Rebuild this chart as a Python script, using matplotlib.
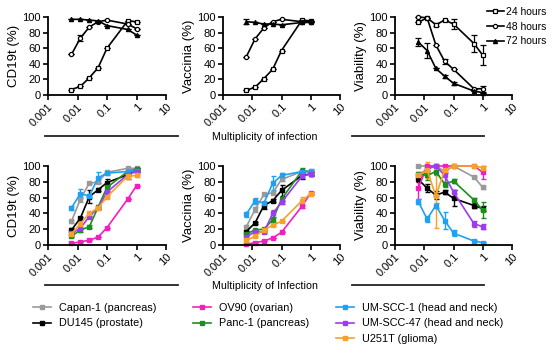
import matplotlib
matplotlib.use('Agg')
import matplotlib.pyplot as plt
from matplotlib.lines import Line2D

plt.rcParams['font.family'] = ['Liberation Sans', 'DejaVu Sans']
plt.rcParams['font.size'] = 7.5

# multiplicity of infection
moi = [0.00625, 0.0125, 0.025, 0.05, 0.1, 0.5, 1]

# top row: time course
time_labels = ['24 hours', '48 hours', '72 hours']
time_markers = ['s', 'o', '^']

cd19_time = [
    [7, 11, 22, 35, 60, 95, 94],
    [52, 73, 87, 94, 96, 91, 85],
    [97, 97, 96, 95, 89, 84, 77],
]
cd19_time_err = [
    [0, 0, 0, 0, 0, 0, 0],
    [0, 4, 0, 0, 0, 0, 0],
    [0, 0, 0, 0, 0, 0, 0],
]
vac_time = [
    [6, 10, 21, 33, 57, 96, 95],
    [49, 72, 86, 94, 97, 94, 94],
    [94, 93, 91, 91, 90, 93, 93],
]
vac_time_err = [
    [0, 0, 0, 0, 0, 0, 0],
    [0, 0, 0, 0, 0, 0, 0],
    [3, 0, 0, 0, 0, 0, 0],
]
via_time = [
    [93, 99, 90, 96, 91, 66, 51],
    [100, 99, 64, 43, 33, 8, 8],
    [68, 57, 34, 24, 15, 5, 3],
]
via_time_err = [
    [0, 0, 2, 0, 7, 11, 13],
    [0, 0, 0, 3, 0, 0, 4],
    [5, 10, 0, 2, 2, 0, 0],
]

# bottom row: cell lines
cell_lines = ['Capan-1 (pancreas)', 'DU145 (prostate)', 'OV90 (ovarian)',
              'Panc-1 (pancreas)', 'UM-SCC-1 (head and neck)',
              'UM-SCC-47 (head and neck)', 'U251T (glioma)']
cell_colors = ['#9a9a9a', '#000000', '#f21fc0', '#1a8f1a', '#1fa0f5',
               '#9b3cf0', '#f7a128']

cd19_cells = [
    [30, 58, 78, 80, 92, 97, 97],
    [19, 34, 61, 70, 79, 89, 95],
    [2, 4, 6, 10, 22, 58, 75],
    [11, 19, 23, 48, 73, 93, 96],
    [47, 65, 62, 85, 91, 93, 94],
    [15, 21, 36, 47, 67, 89, 93],
    [14, 27, 40, 47, 61, 87, 88],
]
cd19_cells_err = [
    [2, 3, 1, 2, 2, 1, 1],
    [2, 2, 8, 2, 4, 5, 2],
    [0, 0, 0, 0, 0, 0, 0],
    [1, 2, 2, 3, 2, 2, 1],
    [3, 6, 2, 7, 2, 1, 1],
    [1, 1, 1, 1, 1, 1, 1],
    [1, 1, 1, 1, 2, 3, 2],
]
vac_cells = [
    [23, 45, 64, 66, 83, 93, 94],
    [17, 28, 50, 56, 69, 88, 90],
    [1, 3, 5, 9, 16, 49, 66],
    [14, 19, 20, 32, 58, 94, 92],
    [39, 56, 53, 78, 88, 93, 93],
    [10, 17, 16, 40, 54, 87, 90],
    [6, 11, 19, 25, 30, 56, 65],
]
vac_cells_err = [
    [2, 3, 2, 2, 2, 2, 2],
    [1, 1, 4, 2, 7, 5, 3],
    [0, 0, 0, 0, 0, 2, 1],
    [1, 1, 1, 3, 2, 3, 3],
    [3, 4, 2, 9, 3, 1, 1],
    [1, 1, 1, 4, 2, 2, 2],
    [1, 1, 1, 1, 1, 5, 2],
]
via_cells = [
    [100, 100, 100, 93, 100, 86, 73],
    [83, 72, 63, 67, 59, 50, 46],
    [72, 100, 100, 100, 100, 100, 92],
    [90, 88, 93, 77, 81, 57, 44],
    [55, 33, 50, 31, 15, 5, 3],
    [88, 96, 100, 88, 67, 27, 23],
    [88, 95, 62, 95, 100, 100, 98],
]
via_cells_err = [
    [0, 0, 0, 2, 0, 1, 2],
    [3, 5, 5, 3, 10, 3, 3],
    [14, 0, 0, 0, 0, 0, 8],
    [3, 6, 4, 3, 3, 3, 10],
    [3, 4, 3, 11, 4, 1, 1],
    [2, 2, 0, 12, 2, 4, 3],
    [2, 10, 40, 3, 0, 0, 2],
]

W, H = 554, 353
fig = plt.figure(figsize=(W / 100, H / 100), dpi=100)


def px_axes(x0, y_top, w, h):
    return fig.add_axes([x0 / W, 1 - (y_top + h) / H, w / W, h / H])


def style_axes(ax, ylabel):
    ax.set_xscale('log')
    ax.set_xlim(0.001, 10)
    ax.set_ylim(0, 100)
    ax.set_yticks([0, 20, 40, 60, 80, 100])
    ax.set_xticks([0.001, 0.01, 0.1, 1, 10])
    ax.set_xticklabels(['0.001', '0.01', '0.1', '1', '10'], rotation=45,
                       ha='right', rotation_mode='anchor')
    ax.set_ylabel(ylabel, fontsize=9.5, labelpad=1.5)
    for s in ['top', 'right']:
        ax.spines[s].set_visible(False)
    for s in ['left', 'bottom']:
        ax.spines[s].set_linewidth(1.3)
    ax.tick_params(which='major', length=3.5, width=1.2, pad=1.5,
                   labelsize=8)
    ax.tick_params(which='minor', length=2, width=0.8)
    ax.patch.set_visible(False)


col_x = [48, 223, 395]
col_w = [118, 117, 117]

# top row
top_sets = [(cd19_time, cd19_time_err, 'CD19t (%)'),
            (vac_time, vac_time_err, 'Vaccinia (%)'),
            (via_time, via_time_err, 'Viability (%)')]
time_handles = []
for j in range(3):
    face = 'black' if time_markers[j] == '^' else 'white'
    time_handles.append(Line2D([], [], color='black', lw=1.2,
                               marker=time_markers[j], ms=3, mfc=face,
                               mec='black', mew=0.9))

for i, (vals, errs, lab) in enumerate(top_sets):
    ax = px_axes(col_x[i], 17, col_w[i], 78)
    for j in range(3):
        face = 'black' if time_markers[j] == '^' else 'white'
        ax.errorbar(moi, vals[j], yerr=errs[j], color='black', lw=1.2,
                    marker=time_markers[j], ms=3, mfc=face, mec='black',
                    mew=0.9, capsize=2, elinewidth=0.9, clip_on=False)
    style_axes(ax, lab)
    if i == 2:
        ax.legend(time_handles, time_labels, loc='upper left',
                  bbox_to_anchor=(487 / W, 1 - 7 / H),
                  bbox_transform=fig.transFigure, frameon=False,
                  handlelength=1.6, handletextpad=0.2, labelspacing=0.45,
                  borderaxespad=0, borderpad=0, fontsize=7.5)

# bottom row
bot_sets = [(cd19_cells, cd19_cells_err, 'CD19t (%)'),
            (vac_cells, vac_cells_err, 'Vaccinia (%)'),
            (via_cells, via_cells_err, 'Viability (%)')]
handles = [Line2D([], [], color=c, lw=1.2, marker='s', ms=2.2)
           for c in cell_colors]
for i, (vals, errs, lab) in enumerate(bot_sets):
    ax = px_axes(col_x[i], 166, col_w[i], 79)
    for j in range(len(cell_lines)):
        ax.errorbar(moi, vals[j], yerr=errs[j], color=cell_colors[j],
                    lw=1.2, marker='s', ms=2.2, capsize=1.8,
                    elinewidth=1.0, clip_on=False)
    style_axes(ax, lab)

# separators with shared x label
for y, text in [(136, 'Multiplicity of infection'),
                (285, 'Multiplicity of Infection')]:
    for xa, xb in [(45, 178), (352, 484)]:
        fig.add_artist(Line2D([xa / W, xb / W], [1 - y / H, 1 - y / H],
                              color='#222222', lw=1.3))
    fig.text(265 / W, 1 - (y + 1) / H, text, ha='center', va='center',
             fontsize=7.7)

# bottom legend in three columns
groups = [(0, 2, 33), (2, 4, 193), (4, 7, 336)]
for a, b, x in groups:
    fig.legend(handles[a:b], cell_lines[a:b], loc='upper left',
               bbox_to_anchor=(x / W, 1 - 303 / H), frameon=False,
               handlelength=1.7, handletextpad=0.7, labelspacing=0.5,
               borderaxespad=0, borderpad=0, fontsize=7.8)

fig.savefig('out.png', dpi=100)
